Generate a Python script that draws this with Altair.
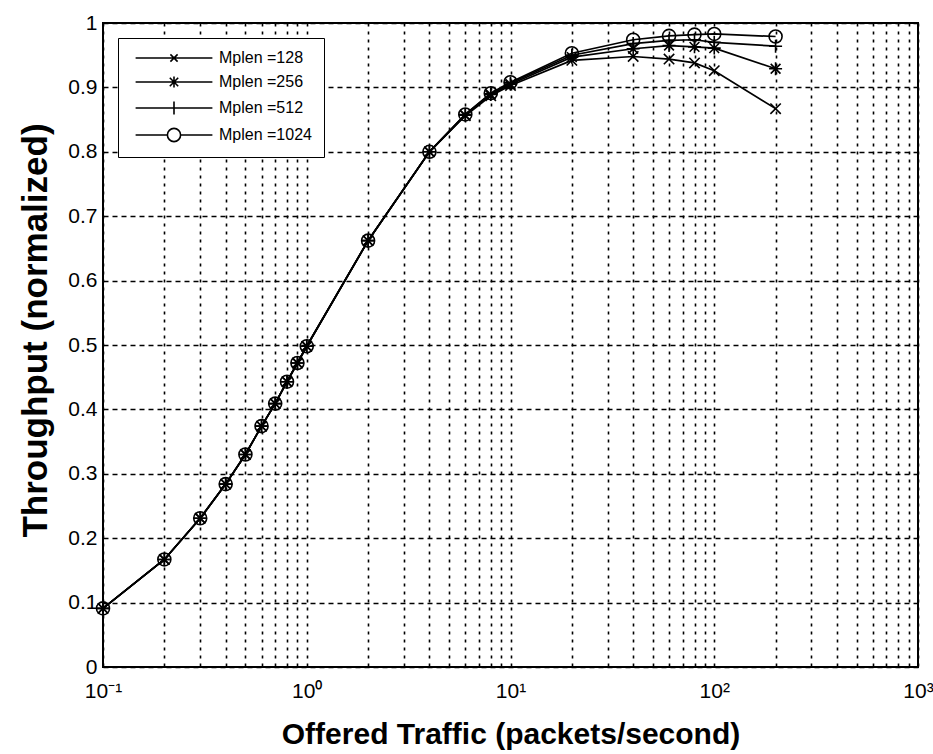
import altair as alt
import pandas as pd

# Offered traffic (packets/second) sampled for every packet length
offered = [0.1, 0.2, 0.3, 0.4, 0.5, 0.6, 0.7, 0.8, 0.9, 1,
           2, 4, 6, 8, 10, 20, 40, 60, 80, 100, 200]

# Normalized throughput per maximum packet length
thr_128 = [0.091, 0.167, 0.231, 0.284, 0.330, 0.374, 0.409, 0.443, 0.472, 0.498,
           0.662, 0.800, 0.856, 0.887, 0.903, 0.942, 0.948, 0.944, 0.938, 0.926, 0.867]
thr_256 = [0.091, 0.167, 0.231, 0.284, 0.330, 0.374, 0.409, 0.443, 0.472, 0.498,
           0.662, 0.800, 0.857, 0.889, 0.905, 0.947, 0.960, 0.965, 0.963, 0.961, 0.929]
thr_512 = [0.091, 0.167, 0.231, 0.284, 0.330, 0.374, 0.409, 0.443, 0.472, 0.498,
           0.662, 0.800, 0.858, 0.890, 0.907, 0.950, 0.968, 0.973, 0.974, 0.970, 0.964]
thr_1024 = [0.091, 0.167, 0.231, 0.284, 0.330, 0.374, 0.409, 0.443, 0.472, 0.498,
            0.662, 0.800, 0.858, 0.891, 0.908, 0.953, 0.974, 0.980, 0.982, 0.983, 0.979]

series_labels = ["Mplen =128", "Mplen =256", "Mplen =512", "Mplen =1024"]
series_values = [thr_128, thr_256, thr_512, thr_1024]

x_major = [0.1, 1, 10, 100, 1000]
x_major_text = ["10\u207b\u00b9", "10\u2070", "10\u00b9", "10\u00b2", "10\u00b3"]
x_grid = [k * 10.0 ** e for e in range(-1, 3) for k in range(1, 10)] + [1000]
y_ticks = [i / 10 for i in range(11)]

rows = []
for label, ys in zip(series_labels, series_values):
    for x, y in zip(offered, ys):
        rows.append({"x": x, "y": y, "series": label})
df = pd.DataFrame(rows)

# Marker glyphs (unit square) and legend glyphs (line through marker)
mark_x = "M-0.8,-0.8L0.8,0.8M-0.8,0.8L0.8,-0.8"
mark_star = "M-1,0H1M0,-1V1M-0.75,-0.75L0.75,0.75M-0.75,0.75L0.75,-0.75"
mark_plus = "M-1,0H1M0,-1V1"
mark_circle = "M1,0A1,1,0,1,1,-1,0A1,1,0,1,1,1,0Z"
marker_paths = [mark_x, mark_star, mark_plus, mark_circle]

half = 6.4
legend_paths = [
    f"M-{half},0H{half}M-0.6,-0.6L0.6,0.6M-0.6,0.6L0.6,-0.6",
    f"M-{half},0H{half}M0,-0.9V0.9M-0.7,-0.7L0.7,0.7M-0.7,0.7L0.7,-0.7",
    f"M-{half},0H{half}M0,-1.1V1.1",
    f"M-{half},0H-1.1M1.1,0H{half}M1.1,0A1.1,1.1,0,1,1,-1.1,0A1.1,1.1,0,1,1,1.1,0Z",
]

label_map = "{" + ",".join(
    f"'{i}':'{t}'" for i, t in zip(range(-1, 4), x_major_text)) + "}"
x_label_expr = (
    "abs(log(datum.value)/LN10 - round(log(datum.value)/LN10)) < 1e-6 ? "
    f"{label_map}[''+round(log(datum.value)/LN10)] : ''"
)

x_enc = alt.X(
    "x:Q",
    scale=alt.Scale(type="log", domain=[0.1, 1000], nice=False),
    axis=alt.Axis(
        values=x_grid,
        labelExpr=x_label_expr,
        labelOverlap=False,
        labelFlush=False,
        title="Offered Traffic (packets/second)",
        gridDash=[3, 5],
    ),
)
y_enc = alt.Y(
    "y:Q",
    scale=alt.Scale(domain=[0, 1], nice=False),
    axis=alt.Axis(values=y_ticks, format="~g", title="Throughput (normalized)",
                  gridDash=[5, 4], labelFlush=False, titleY=307),
)

lines = alt.Chart(df).mark_line(color="black", strokeWidth=1.7).encode(
    x=x_enc, y=y_enc, detail="series:N"
)

points = alt.Chart(df).mark_point(
    filled=False, color="black", size=169, strokeWidth=1.6, opacity=1
).encode(
    x="x:Q",
    y="y:Q",
    shape=alt.Shape("series:N",
                    scale=alt.Scale(domain=series_labels, range=marker_paths),
                    legend=None),
)

legend_layer = alt.Chart(df).transform_filter("datum.y > 2").mark_point(
    filled=False, color="black", size=144, strokeWidth=1.6, opacity=1
).encode(
    x="x:Q",
    y="y:Q",
    shape=alt.Shape(
        "series:N",
        scale=alt.Scale(domain=series_labels, range=legend_paths),
        legend=alt.Legend(
            title=None,
            orient="none",
            legendX=15,
            legendY=15,
            padding=12,
            fillColor="white",
            strokeColor="black",
            symbolSize=144,
            symbolOffset=36,
            symbolStrokeColor="black",
            symbolStrokeWidth=1.6,
            symbolOpacity=1,
            labelOffset=37,
            labelFontSize=16,
            labelFont="Liberation Sans, Arial",
            labelColor="black",
            rowPadding=7,
        ),
    ),
)

chart = (
    alt.layer(lines, points, legend_layer)
    .resolve_scale(shape="independent")
    .properties(
        width=815,
        height=644,
        autosize=alt.AutoSizeParams(type="none"),
        padding={"left": 103, "top": 23, "right": 15, "bottom": 87},
        background="white",
    )
    .configure_view(stroke="black", strokeWidth=2)
    .configure_axis(
        grid=True,
        gridColor="black",
        gridOpacity=1,
        gridWidth=1.6,
        ticks=False,
        domain=False,
        labelColor="black",
        labelFont="Liberation Sans, Arial",
        labelFontSize=21,
        titleColor="black",
        titleFont="Liberation Sans, Arial",
        titleFontWeight="bold",
    )
    .configure_axisX(labelPadding=13, titlePadding=18, titleFontSize=30)
    .configure_axisY(labelPadding=6, titlePadding=14, titleFontSize=35)
)

chart.save("out.html", embed_options={"renderer": "svg", "actions": False})
